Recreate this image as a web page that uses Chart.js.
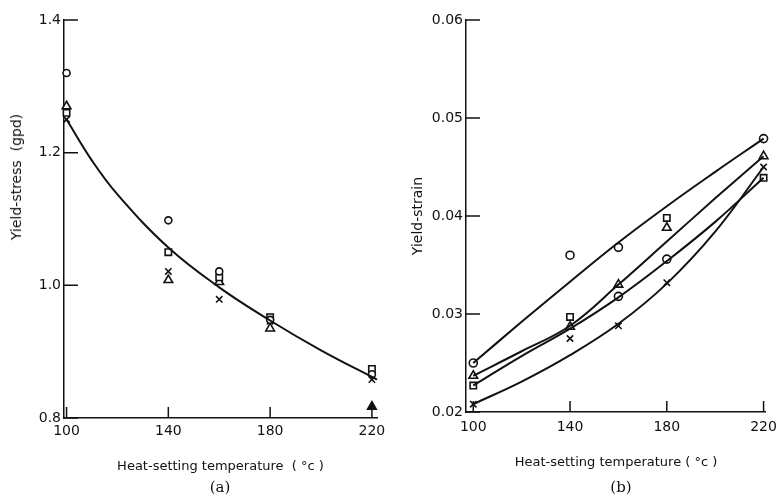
<!DOCTYPE html>
<html>
<head>
<meta charset="utf-8">
<script src="https://cdn.jsdelivr.net/npm/chart.js@4.4.1/dist/chart.umd.min.js"></script>
<style>
  body { margin: 0; background: #fff; }
  #wrap { position: relative; width: 784px; height: 501px; font-family: "DejaVu Sans", sans-serif; color: #111; }
  canvas { position: absolute; top: 0; }
  #chartA { left: 0; }
  #chartB { left: 392px; }
  .panel { position: absolute; top: 478px; font-family: "DejaVu Serif", serif; font-size: 15px; transform: translateX(-50%); }
  #ytitleA { position: absolute; left: 16px; top: 177px; font-size: 14px; white-space: pre;
             transform: translate(-50%, -50%) rotate(-90deg); }
</style>
</head>
<body>
<div id="wrap">
  <canvas id="chartA" width="392" height="501"></canvas>
  <canvas id="chartB" width="392" height="501"></canvas>
  <div id="ytitleA">Yield-stress  (gpd)</div>
  <div class="panel" style="left:220px">(a)</div>
  <div class="panel" style="left:621px">(b)</div>
</div>
<script>
// (a) yield stress vs heat-setting temperature
const tempA = [100, 140, 160, 180, 220];
const stressCircle = [1.32, 1.098, 1.021, 0.948, 0.866];
const stressTriangle = [1.27, 1.008, 1.005, 0.935, 0.817];
const stressSquare = [1.26, 1.05, 1.012, 0.952, 0.874];
const stressCross = [1.25, 1.021, 0.979, 0.946, 0.858];
const fitTempA = [100, 110, 120, 140, 160, 180, 200, 222];
const fitStress = [1.25, 1.188, 1.137, 1.057, 0.997, 0.947, 0.902, 0.858];
const stressTicks = [0.8, 1.0, 1.2, 1.4];

// (b) yield strain vs heat-setting temperature
const circleTempB = [100, 140, 160, 160, 180, 220];
const strainCircle = [0.025, 0.036, 0.0368, 0.0318, 0.0356, 0.0479];
const triangleTempB = [100, 140, 160, 180, 220];
const strainTriangle = [0.0237, 0.0287, 0.033, 0.0388, 0.0461];
const squareTempB = [100, 140, 180, 220];
const strainSquare = [0.0227, 0.0297, 0.0398, 0.0439];
const crossTempB = [100, 140, 160, 180, 220];
const strainCross = [0.0208, 0.0275, 0.0288, 0.0332, 0.045];
const fitTempB = [100, 120, 140, 160, 180, 200, 220];
const fitCircle = [0.025, 0.0292, 0.0333, 0.0373, 0.041, 0.0445, 0.0479];
const fitTriangle = [0.0237, 0.0262, 0.0288, 0.033, 0.0374, 0.0418, 0.0461];
const fitSquare = [0.0227, 0.0257, 0.0285, 0.0317, 0.0354, 0.0394, 0.0439];
const fitCross = [0.0208, 0.0231, 0.0258, 0.029, 0.0331, 0.0384, 0.045];
const strainTicks = [0.02, 0.03, 0.04, 0.05, 0.06];

const tempTicks = [100, 140, 180, 220];
const INK = "#111";

function pts(xs, ys) {
  return xs.map((x, i) => ({ x: x, y: ys[i] }));
}

function markers(xs, ys, style, radius, fill) {
  return {
    data: pts(xs, ys),
    showLine: false,
    pointStyle: style,
    pointRadius: radius,
    pointBorderColor: INK,
    pointBackgroundColor: fill || "#fff",
    pointBorderWidth: 1.6,
    clip: false
  };
}

function curve(xs, ys) {
  return {
    data: pts(xs, ys),
    showLine: true,
    borderColor: INK,
    borderWidth: 2,
    pointRadius: 0,
    tension: 0.4,
    clip: false
  };
}

// ticks drawn inward from the axes
const inwardTicks = {
  id: "inwardTicks",
  afterDraw(chart) {
    const { ctx, chartArea } = chart;
    const xs = chart.scales.x, ys = chart.scales.y;
    ctx.save();
    ctx.strokeStyle = INK;
    ctx.lineWidth = 1.5;
    ctx.beginPath();
    xs.ticks.forEach(t => {
      const px = xs.getPixelForValue(t.value);
      ctx.moveTo(px, chartArea.bottom);
      ctx.lineTo(px, chartArea.bottom - 11);
    });
    ys.ticks.forEach(t => {
      const py = ys.getPixelForValue(t.value);
      ctx.moveTo(chartArea.left, py);
      ctx.lineTo(chartArea.left + 14, py);
    });
    ctx.stroke();
    ctx.restore();
  }
};

function makeChart(id, opts) {
  return new Chart(document.getElementById(id), {
    type: "scatter",
    data: { datasets: opts.datasets },
    options: {
      responsive: false,
      animation: false,
      layout: { padding: { top: 20, right: opts.padRight, left: 0, bottom: 0 } },
      plugins: { legend: { display: false }, tooltip: { enabled: false } },
      scales: {
        x: {
          type: "linear",
          min: opts.xMin,
          max: opts.xMax,
          afterBuildTicks: s => { s.ticks = tempTicks.map(v => ({ value: v })); },
          afterFit: s => { s.height = opts.xHeight; },
          grid: { display: true, drawOnChartArea: false, drawTicks: false },
          border: { display: true, color: INK, width: 1.5 },
          ticks: { color: INK, padding: opts.xPad, font: { family: "DejaVu Sans", size: 14 } },
          title: {
            display: true,
            text: opts.xTitle,
            color: INK,
            font: { family: "DejaVu Sans", size: 13 },
            padding: { top: 0, bottom: opts.xTitlePad }
          }
        },
        y: {
          type: "linear",
          min: opts.yMin,
          max: opts.yMax,
          afterBuildTicks: s => { s.ticks = opts.yTicks.map(v => ({ value: v })); },
          afterFit: s => { s.width = opts.yWidth; },
          grid: { display: true, drawOnChartArea: false, drawTicks: false },
          border: { display: true, color: INK, width: 1.5 },
          ticks: {
            color: INK,
            padding: 3,
            font: { family: "DejaVu Sans", size: 14 },
            callback: v => v.toFixed(opts.yDigits)
          },
          title: {
            display: !!opts.yTitle,
            text: opts.yTitle,
            color: INK,
            font: { family: "DejaVu Sans", size: 14 },
            padding: { top: opts.yTitlePad, bottom: 0 }
          }
        }
      }
    },
    plugins: [inwardTicks]
  });
}

const triangleFill = stressTriangle.map((v, i) => (i === stressTriangle.length - 1 ? INK : "#fff"));

makeChart("chartA", {
  datasets: [
    curve(fitTempA, fitStress),
    markers(tempA, stressCircle, "circle", 3.5),
    markers(tempA, stressSquare, "rect", 4.5),
    markers(tempA, stressTriangle, "triangle", 5, triangleFill),
    markers(tempA, stressCross, "crossRot", 4.5)
  ],
  xMin: 99, xMax: 222, yMin: 0.8, yMax: 1.4, yTicks: stressTicks, yDigits: 1,
  padRight: 15, xHeight: 83, yWidth: 64, xPad: 5, xTitlePad: 27,
  xTitle: "Heat-setting temperature  ( \u00b0c )", yTitle: ""
});

makeChart("chartB", {
  datasets: [
    curve(fitTempB, fitCircle),
    curve(fitTempB, fitTriangle),
    curve(fitTempB, fitSquare),
    curve(fitTempB, fitCross),
    markers(circleTempB, strainCircle, "circle", 4),
    markers(triangleTempB, strainTriangle, "triangle", 5),
    markers(squareTempB, strainSquare, "rect", 4.5),
    markers(crossTempB, strainCross, "crossRot", 4.5)
  ],
  xMin: 97, xMax: 221, yMin: 0.02, yMax: 0.06, yTicks: strainTicks, yDigits: 2,
  padRight: 8, xHeight: 89, yWidth: 74, xPad: 7, xTitlePad: 31,
  xTitle: "Heat-setting temperature ( \u00b0c )", yTitle: "Yield-strain", yTitlePad: 18
});
</script>
</body>
</html>
